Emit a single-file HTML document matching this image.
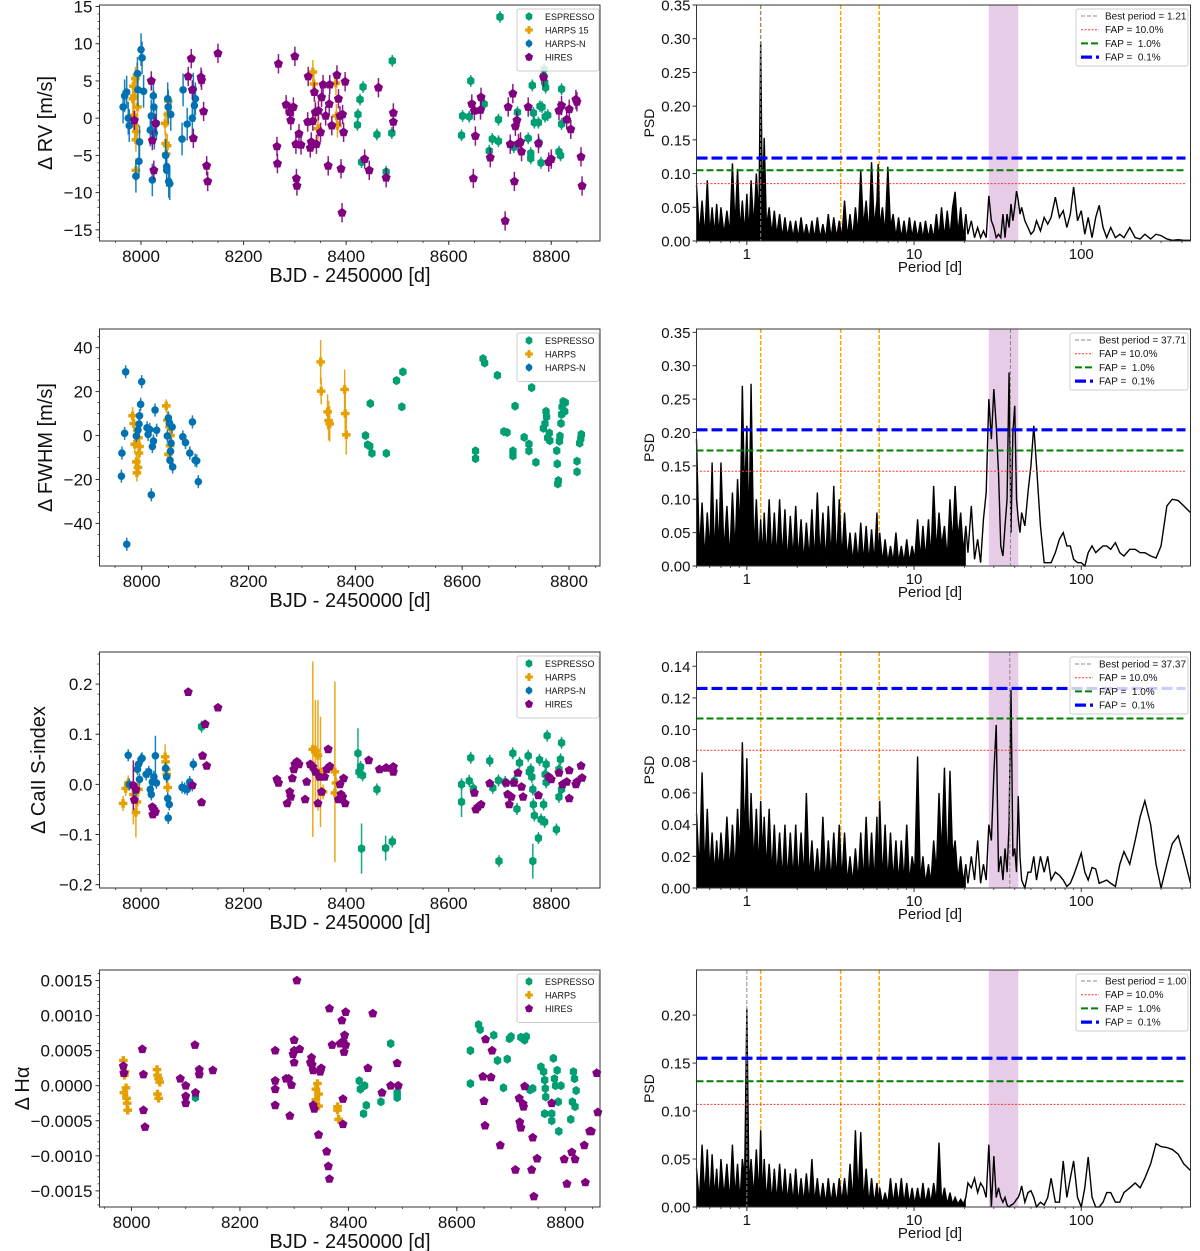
<!DOCTYPE html>
<html><head><meta charset="utf-8"><title>RV and activity periodograms</title>
<style>
html,body{margin:0;padding:0;background:#fff;}
svg{display:block;font-family:"Liberation Sans",sans-serif;}
text{white-space:pre;}
</style></head>
<body>
<svg id="fig" xmlns="http://www.w3.org/2000/svg" width="1200" height="1251" viewBox="0 0 1200 1251"></svg>
<script>
// ---------- time-series data [BJD-2450000, value, optional error] ----------
const rvEspresso=[[8700,13.6],[8490,7.7],[8433,4.2],[8427,2.5],[8423,0.5],[8422,-0.9],[8430,-5.9],[8460,-2.2],[8478,-7.2],[8489,-2.0],[8627,0.3],[8625,-2.3],[8643,5.0],[8640,0.2],[8669,1.9],[8679,-4.4],[8685,-2.8],[8697,-0.2],[8697,-3.1],[8727,-3.9],[8734,0.8],[8755,-2.7],[8760,-5.4],[8760,-4.7],[8763,4.4],[8765,0.7],[8767,-0.6],[8778,1.6],[8782,1.5],[8775,-0.6],[8788,0.2],[8780,-6.0],[8786,6.6],[8785,5.7],[8787,4.8],[8789,4.1],[8793,0.4],[8815,-4.5],[8818,-5.0],[8820,-0.8],[8820,3.9],[8776,-3.3]];
const rvHarps=[[7985,4.3],[7987,3.0],[7989,5.3],[7984,2.6],[7986,0.4],[7988,-1.0],[7991,-1.8],[7990,-2.9],[7990,-7.0],[7993,1.5],[7992,5.8],[8047,-0.7],[8048,-3.4],[8049,-4.8],[8051,-3.7],[8053,2.3],[8052,0.5],[8335,6.2],[8337,4.6],[8340,0.8],[8345,-1.4],[8380,4.7],[8381,0.3],[8383,-1.0]];
const rvHarpsN=[[7965,1.5],[7968,3.0],[7972,3.5],[7975,0],[7977,-1],[7990,-7.8],[7993,6.0],[7994,3.8],[7996,-5.8],[7997,-3.2],[8000,9.2],[8002,8.1],[8005,3.6],[8018,-1.6],[8020,0.3],[8022,-8.3],[8024,3.0],[8025,1.5],[8026,-2.0],[8030,-0.7],[8048,-5.0],[8050,-6.5],[8050,-7.0],[8052,2.6],[8053,1.5],[8054,-8.5],[8056,-8.8],[8058,0.5],[8080,-2.8],[8082,3.8],[8090,-0.8],[8100,0],[8102,3.9],[8104,1.7],[8106,2.6]];
const rvHires=[[7987,-0.3],[8020,5.0],[8022,-3.0],[8025,-7.0],[8028,-0.7],[8092,5.6],[8098,8.0],[8100,3.8],[8102,-2.7],[8117,5.5],[8118,5.1],[8122,0.9],[8128,-6.4],[8130,-8.5],[8150,8.7],[8265,-3.8],[8266,-6.1],[8268,7.3],[8283,1.8],[8290,0.8],[8292,-0.3],[8297,1.5],[8300,8.3],[8302,-3.5],[8303,-8.1],[8304,-9.1],[8308,-2.1],[8312,-3.6],[8325,-0.5],[8326,5.6],[8330,-4.0],[8332,-3.2],[8335,-0.4],[8338,3.5],[8340,0.8],[8342,-3.5],[8346,1.0],[8350,-1.9],[8352,2.8],[8355,4.5],[8360,0.3],[8365,-6.4],[8367,1.9],[8368,4.5],[8372,-1.0],[8382,5.8],[8385,2.6],[8388,0.3],[8390,-6.8],[8392,-12.7],[8393,0.5],[8395,-1.9],[8398,4.9],[8436,-5.5],[8445,-7.0],[8463,4.1],[8478,-8.0],[8492,0.7],[8492,-0.5],[8645,1.9],[8648,-8.1],[8652,-2.4],[8650,1.0],[8662,1.1],[8663,2.8],[8681,-5.3],[8710,-13.8],[8716,1.5],[8720,-3.5],[8725,3.3],[8728,-8.5],[8730,-1.1],[8733,-0.3],[8736,-3.4],[8740,-3.2],[8742,-4.5],[8755,1.5],[8775,-3.4],[8785,5.5],[8795,-5.9],[8800,-5.5],[8815,1.0],[8820,1.7],[8830,-0.2],[8835,1.2],[8838,-1.5],[8848,2.5],[8850,2.2],[8858,-5.2],[8860,-9.1]];

const fwEspresso=[[8419,0],[8423,-4.2],[8427,-4.8],[8431,-8.1],[8428,14.6],[8458,-8.1],[8477,25],[8487,13.1],[8489,29],[8639,35],[8642,33],[8625,-7],[8625,-10.5],[8666,27.4],[8678,1.8],[8684,1.4],[8699,13.4],[8695,-7],[8695,-9.3],[8716,-0.8],[8725,-3.9],[8725,-7],[8730,21.8],[8738,-12.2],[8752,3.3],[8755,5.4],[8757,11],[8758,8.5],[8760,-1.1],[8763,1.1],[8764,-2.3],[8777,-6.9],[8778,-12.9],[8780,-20.5],[8779,-22],[8782,-2.6],[8783,-0.2],[8785,5.5],[8786,9.6],[8787,13],[8789,15.5],[8793,15],[8792,11],[8815,-11.7],[8815,-16.5],[8820,-3.5],[8822,-1.5],[8823,0.5]];
const fwHarps=[[8335,33.5,10],[8336,20.2,6],[8348,10.8,8],[8350,6.8,9],[8352,5.3,8],[8380,21,9],[8381,10,9],[8383,0.3,9],[7983,9,4],[7985,5.5,4],[7987,-4,4],[7990,-12,4],[7991,-17,4],[7993,-14.5,4],[7995,-8,4],[7996,-5,4],[7994,-1,4],[8046,13.5,3],[8048,7,4],[8050,-8.5,4],[8052,4,4],[8053,-4.6,4],[8054,0,4]];
const fwHarpsN=[[7963,-8],[7962,-18.5],[7968,1],[7970,29],[7972,-49.5],[7990,-0.2],[7993,2.5],[7995,5.2],[7996,9],[7998,14.2],[8000,24.5],[8010,3.5],[8012,0.5],[8015,2.8],[8018,-27],[8020,-5],[8022,-2.5],[8025,11.6],[8028,2.4],[8048,-0.2],[8050,8],[8052,5.5],[8053,-11.3],[8054,-7.2],[8055,-3.5],[8057,3.9],[8058,-14.3],[8077,-0.6],[8082,-3.2],[8090,-8],[8095,6.2],[8100,-11.2],[8103,-11.5],[8106,-21]];

const sEspresso=[[8118,0.115],[8423,0.062,0.05],[8425,0.025],[8428,0.035],[8432,0.018],[8430,-0.128,0.05],[8460,-0.01],[8477,-0.127,0.025],[8490,-0.114],[8625,0],[8625,-0.035,0.03],[8640,0.007],[8643,0.053],[8648,-0.008],[8680,0.047],[8686,-0.007],[8697,0.008],[8698,-0.153],[8710,0.005],[8725,0.062],[8728,0.007],[8733,-0.049],[8738,0.043],[8755,0.057],[8757,0.025],[8760,0.03],[8762,0.015],[8764,-0.01],[8765,-0.04],[8767,-0.062],[8764,-0.153,0.035],[8775,-0.107],[8777,0.049],[8780,-0.07],[8785,-0.04],[8787,-0.075],[8788,0.02],[8790,0.04],[8792,0.097],[8810,-0.09],[8815,-0.025],[8818,0.05],[8820,0.083],[8820,-0.01],[8815,0.03],[8790,0.004]];
const sHarps=[[7965,-0.038],[7970,-0.008],[7975,0.003],[7985,-0.02,0.06],[7990,-0.056,0.05],[7992,-0.035],[7995,-0.01],[8047,0.055,0.025],[8048,0.045],[8049,0.03],[8050,0.02],[8052,-0.006],[8335,0.07,0.175],[8340,0.068,0.1],[8345,0.058,0.11],[8350,0.025,0.11],[8355,-0.015],[8378,0.025,0.18],[8380,0.003],[8378,-0.017]];
const sHarpsN=[[7975,0.058],[7977,0.0],[7990,-0.012],[7993,0.03],[7995,0.04],[7997,0.01],[8000,0.05],[8002,0.052],[8010,0.02],[8015,0.025],[8018,-0.01],[8020,-0.02],[8022,0.005],[8025,0.015],[8028,0.057,0.04],[8030,0.003],[8048,0.032],[8050,0.015],[8052,-0.028],[8053,-0.067],[8055,-0.04],[8080,-0.006],[8085,-0.008],[8090,-0.01],[8095,0.005],[8100,-0.002],[8102,0.04]];
const sHires=[[7985,-0.002,0.05],[7987,-0.031],[7990,-0.01],[8022,-0.045],[8023,-0.06],[8025,-0.05],[8028,-0.055],[8092,0.184],[8100,-0.002],[8118,-0.036],[8120,0.057],[8125,0.12],[8128,0.037],[8150,0.153],[8265,0.01],[8268,0.003],[8285,-0.038],[8290,-0.015],[8292,-0.025],[8295,0.012],[8298,0.03],[8300,0.04],[8304,0.045],[8308,0.04],[8320,-0.03],[8323,0.005],[8330,0.04],[8335,0.035],[8340,0.025],[8345,-0.038],[8348,0.015],[8352,-0.015],[8358,0.015],[8362,0.03],[8365,0.07],[8368,0.036],[8385,-0.03],[8388,0.0],[8390,-0.02],[8393,-0.025],[8395,0.012],[8398,-0.038],[8444,0.048],[8465,0.03],[8478,0.033],[8492,0.035],[8492,0.025],[8650,-0.017],[8653,-0.05],[8657,-0.045],[8663,-0.04],[8680,0.002],[8712,0.003],[8715,-0.02],[8718,-0.04],[8722,-0.025],[8727,0.003],[8735,0.023],[8742,-0.005],[8745,-0.025],[8775,-0.022],[8795,0.015],[8800,0.01],[8815,0.023],[8822,0.0],[8830,0.005],[8835,0.028],[8835,-0.028],[8848,0.0],[8850,0.005],[8858,0.037],[8860,0.013]];

const haEspresso=[[8118,-0.00017],[8420,0.00007],[8422,-0.00005],[8428,-0.0004],[8430,0.0],[8433,-0.00028],[8460,-0.00023],[8478,0.0006],[8490,-0.00017],[8490,-0.0001],[8625,0.0005],[8625,0.00003],[8640,0.00087],[8643,0.0008],[8668,0.00072],[8675,0.00036],[8686,-0.00003],[8693,0.00038],[8697,0.00067],[8700,0.0007],[8718,0.00069],[8725,0.00065],[8728,0.0007],[8735,-0.00006],[8740,-0.00004],[8755,0.00027],[8760,0.0002],[8762,0.00008],[8763,-0.00004],[8764,-0.00016],[8762,-0.0004],[8775,-0.0005],[8775,-0.0004],[8778,0.00039],[8780,0.0001],[8782,0.0],[8785,0.00022],[8787,-0.00023],[8788,-0.00065],[8792,0.0],[8810,-0.00048],[8813,-0.00023],[8815,0.0002],[8817,0.0001],[8818,-0.0003],[8820,-0.00007]];
const haHarps=[[7985,0.00036],[7987,0.00015],[7988,0.0002],[7986,-0.0001],[7990,-0.00003],[7991,-0.00018],[7992,-0.00025],[7993,-0.00035],[8047,0.00023],[8048,0.00015],[8050,0.0001],[8052,0.00005],[8048,-0.00012],[8050,-0.00018],[8340,-0.00005],[8343,0.00003],[8345,-0.00012],[8340,-0.0002],[8345,-0.00029],[8380,-0.00035],[8382,-0.00048],[8380,-0.0003]];
const haHires=[[7985,0.00028],[7986,0.00018],[8020,0.00052],[8022,0.00016],[8022,-0.00035],[8025,-0.00059],[8090,0.0001],[8100,0.0],[8100,-0.00015],[8100,-0.00025],[8117,0.00058],[8118,-0.0001],[8125,0.00023],[8125,0.00016],[8150,0.00022],[8265,0.0005],[8265,0.00007],[8265,-0.00005],[8265,-0.00028],[8285,0.0001],[8290,0.0001],[8292,-0.00043],[8295,0.00001],[8298,0.00045],[8300,0.00065],[8300,0.0005],[8300,0.00033],[8310,0.00052],[8305,0.0015],[8330,0.00033],[8332,0.0004],[8333,0.0003],[8335,0.00022],[8335,-0.00028],[8337,-0.00033],[8345,-0.0007],[8348,0.0002],[8350,0.00025],[8360,-0.00094],[8363,-0.00115],[8365,-0.00133],[8365,0.0011],[8370,0.00058],[8385,0.0006],[8388,0.00093],[8390,0.00063],[8390,-0.00019],[8393,0.00072],[8392,0.00048],[8390,-0.00055],[8395,0.00105],[8395,0.00058],[8436,0.00025],[8445,0.00103],[8462,-0.0001],[8478,0.0],[8490,0.00032],[8492,0.0],[8648,0.00013],[8650,-0.00022],[8652,-0.00057],[8653,0.00066],[8663,0.00012],[8665,0.0005],[8680,-0.00085],[8708,-0.0012],[8715,-0.00018],[8716,-0.00052],[8718,-0.0006],[8722,-0.00026],[8723,-0.0003],[8725,-0.00001],[8738,-0.0012],[8740,-0.00074],[8742,-0.00158],[8748,-0.00104],[8775,-0.00025],[8798,-0.00105],[8803,-0.0014],[8812,-0.00095],[8818,-0.00105],[8835,-0.00085],[8837,-0.00138],[8845,-0.00065],[8848,-0.00065],[8858,0.00018],[8860,-0.00038]];

// ---------- periodogram data ----------
const periodGrid=[0.50,0.52,0.54,0.56,0.58,0.60,0.62,0.64,0.66,0.68,0.70,0.73,0.76,0.79,0.82,0.85,0.88,0.91,0.94,0.97,1.00,1.03,1.06,1.10,1.14,1.18,1.21,1.24,1.27,1.31,1.36,1.41,1.46,1.51,1.57,1.63,1.69,1.75,1.82,1.89,1.96,2.03,2.11,2.19,2.27,2.36,2.45,2.54,2.64,2.74,2.85,2.96,3.07,3.19,3.31,3.44,3.57,3.70,3.84,3.99,4.14,4.30,4.46,4.63,4.80,4.98,5.17,5.37,5.57,5.78,6.00,6.10,6.23,6.47,6.71,6.97,7.23,7.50,7.79,8.08,8.39,8.71,9.04,9.38,9.73,10.1,10.5,10.9,11.3,11.7,12.2,12.6,13.1,13.6,14.1,14.6,15.2,15.8,16.4,17.0,17.6,18.3,19.0,19.7,20.4,
21,22,23,24,25,26,27,28,29,30,31,32,33,34,35,36,37,38,39,40,41,42,43,44,46,48,50,52,54,57,60,63,66,70,74,78,82,86,90,95,100,105,110,116,122,128,135,142,150,160,170,180,195,210,225,240,260,280,300,325,350,380,410,450];
const noiseLimit=20.4;
const psdRV=[0.083,0.01,0.06,0.005,0.09,0.01,0.05,0.008,0.055,0.01,0.05,0.01,0.045,0.01,0.115,0.02,0.107,0.015,0.06,0.01,0.07,0.01,0.09,0.02,0.1,0.03,0.295,0.04,0.153,0.02,0.05,0.01,0.045,0.008,0.04,0.005,0.035,0.006,0.03,0.005,0.03,0.004,0.035,0.005,0.025,0.004,0.03,0.003,0.035,0.004,0.025,0.003,0.04,0.004,0.035,0.005,0.03,0.004,0.06,0.005,0.04,0.004,0.05,0.01,0.105,0.02,0.06,0.01,0.117,0.02,0.06,0.114,0.02,0.05,0.01,0.11,0.02,0.04,0.005,0.035,0.004,0.03,0.003,0.035,0.005,0.03,0.004,0.028,0.003,0.03,0.004,0.025,0.003,0.04,0.005,0.05,0.005,0.045,0.006,0.05,0.073,0.01,0.05,0.005,0.04,
0.01,0.03,0.005,0.02,0.005,0.015,0.005,0.067,0.03,0.02,0.005,0.01,0.005,0.04,0.005,0.04,0.02,0.055,0.03,0.05,0.074,0.06,0.04,0.05,0.03,0.02,0.01,0.015,0.03,0.015,0.035,0.025,0.035,0.065,0.035,0.045,0.02,0.04,0.08,0.03,0.045,0.01,0.035,0.005,0.035,0.053,0.02,0.005,0.02,0.005,0.01,0.005,0.02,0.005,0.003,0.01,0.003,0.01,0.008,0.003,0.001,0.002,0.001,0.001];
const psdFWHM=[0.19,0.02,0.095,0.01,0.08,0.02,0.155,0.01,0.1,0.02,0.155,0.02,0.09,0.01,0.11,0.02,0.13,0.05,0.27,0.1,0.21,0.05,0.273,0.02,0.1,0.01,0.07,0.01,0.08,0.01,0.1,0.01,0.08,0.01,0.1,0.01,0.085,0.005,0.075,0.01,0.09,0.01,0.07,0.005,0.065,0.01,0.085,0.005,0.11,0.01,0.08,0.005,0.09,0.01,0.12,0.005,0.1,0.01,0.08,0.01,0.05,0.005,0.05,0.005,0.065,0.005,0.06,0.005,0.055,0.005,0.08,0.01,0.05,0.005,0.04,0.005,0.03,0.005,0.05,0.005,0.03,0.005,0.04,0.005,0.03,0.01,0.07,0.01,0.06,0.01,0.07,0.01,0.12,0.02,0.08,0.03,0.06,0.01,0.1,0.03,0.12,0.04,0.08,0.02,0.06,
0.02,0.09,0.01,0.04,0.005,0.07,0.11,0.25,0.19,0.265,0.21,0.14,0.03,0.015,0.06,0.1,0.29,0.05,0.2,0.24,0.1,0.07,0.05,0.08,0.06,0.11,0.15,0.21,0.15,0.06,0.005,0.005,0.005,0.02,0.04,0.05,0.03,0.03,0.01,0.005,0.005,0.0,0.02,0.03,0.02,0.025,0.03,0.03,0.025,0.035,0.02,0.015,0.025,0.025,0.02,0.02,0.015,0.012,0.03,0.09,0.1,0.098,0.09,0.08];
const psdS=[0.047,0.01,0.073,0.01,0.05,0.01,0.035,0.008,0.03,0.01,0.035,0.01,0.045,0.01,0.04,0.01,0.05,0.02,0.092,0.03,0.082,0.02,0.06,0.015,0.05,0.01,0.055,0.02,0.045,0.01,0.05,0.008,0.04,0.006,0.035,0.005,0.04,0.005,0.035,0.005,0.04,0.004,0.035,0.005,0.06,0.005,0.03,0.004,0.025,0.003,0.045,0.003,0.03,0.004,0.035,0.005,0.04,0.004,0.035,0.003,0.02,0.003,0.025,0.004,0.035,0.003,0.045,0.003,0.035,0.003,0.045,0.003,0.055,0.004,0.04,0.003,0.035,0.004,0.03,0.003,0.03,0.003,0.04,0.003,0.02,0.01,0.083,0.005,0.02,0.003,0.015,0.003,0.03,0.01,0.06,0.02,0.076,0.01,0.074,0.02,0.03,0.005,0.02,0.003,0.015,
0.003,0.02,0.005,0.03,0.003,0.015,0.005,0.04,0.03,0.072,0.103,0.01,0.02,0.005,0.025,0.01,0.04,0.125,0.02,0.025,0.01,0.058,0.02,0.005,0.0,0.01,0.01,0.02,0.005,0.02,0.01,0.02,0.005,0.01,0.008,0.005,0.001,0.003,0.008,0.015,0.022,0.01,0.005,0.013,0.012,0.003,0.004,0.005,0.003,0.001,0.015,0.023,0.015,0.03,0.045,0.055,0.04,0.015,0.0,0.015,0.028,0.033,0.02,0.003];
const psdHa=[0.04,0.005,0.065,0.01,0.06,0.005,0.055,0.01,0.04,0.005,0.05,0.01,0.045,0.005,0.065,0.01,0.045,0.005,0.05,0.03,0.207,0.02,0.05,0.01,0.06,0.01,0.08,0.01,0.05,0.005,0.045,0.005,0.04,0.005,0.045,0.005,0.04,0.005,0.035,0.004,0.04,0.004,0.03,0.004,0.035,0.004,0.05,0.004,0.03,0.004,0.025,0.003,0.03,0.004,0.025,0.003,0.03,0.005,0.03,0.003,0.045,0.005,0.08,0.01,0.078,0.005,0.04,0.003,0.03,0.003,0.025,0.003,0.02,0.003,0.015,0.003,0.03,0.003,0.025,0.003,0.03,0.003,0.025,0.003,0.02,0.003,0.02,0.003,0.025,0.003,0.02,0.003,0.025,0.005,0.067,0.005,0.02,0.003,0.015,0.003,0.01,0.003,0.008,0.003,0.01,
0.025,0.02,0.03,0.015,0.025,0.02,0.01,0.065,0.0,0.053,0.01,0.02,0.01,0.005,0.01,0.002,0.0,0.002,0.003,0.005,0.008,0.01,0.015,0.022,0.005,0.015,0.017,0.01,0.0,0.005,0.002,0.01,0.03,0.005,0.005,0.048,0.01,0.03,0.048,0.01,0.0,0.02,0.052,0.01,0.0,0.0,0.005,0.015,0.015,0.005,0.005,0.015,0.02,0.025,0.02,0.03,0.045,0.066,0.063,0.062,0.06,0.055,0.045,0.038];
const bestPeriods=[1.21,37.71,37.37,1.00];
const bestLabels=["1.21","37.71","37.37","1.00"];
const fap10=[0.085,0.142,0.087,0.107];
const fap1=[0.105,0.173,0.107,0.131];
const fap01=[0.123,0.204,0.126,0.155];
const markedPeriods=[1.21,3.64,6.19];
const bandPeriods=[28,42];

// ---------- layout ----------
const NS="http://www.w3.org/2000/svg";
const svg=document.getElementById('fig');
const LX=[99.5,600], RX=[696.5,1190.5];
const rows=[[5,241],[329,566],[652,888],[970,1207]];
const COL={ESPRESSO:'#009E73',HARPS:'#E69F00',HARPSN:'#0072B2',HIRES:'#800080'};

function mk(tag,attrs,parent){const e=document.createElementNS(NS,tag);for(const k in attrs)e.setAttribute(k,attrs[k]);(parent||svg).appendChild(e);return e;}
function txt(s,x,y,size,anchor,parent,extra){const t=mk('text',Object.assign({x:x,y:y,'font-size':size,'text-anchor':anchor||'middle',fill:'#111'},extra||{}),parent);t.textContent=s;return t;}
function lin(d0,d1,p0,p1){return v=>p0+(v-d0)/(d1-d0)*(p1-p0);}
function logs(d0,d1,p0,p1){const a=Math.log10(d0),b=Math.log10(d1);return v=>p0+(Math.log10(v)-a)/(b-a)*(p1-p0);}

function marker(kind,x,y,g,sc){
  const c=COL[kind];let e;sc=sc||1;
  if(kind==='HARPSN'){e=mk('circle',{cx:x,cy:y,r:3.8*sc,fill:c},g);}
  else if(kind==='ESPRESSO'){const r=4.6*sc,p=[];for(let i=0;i<6;i++){const a=Math.PI/2+i*Math.PI/3;p.push((x+r*0.92*Math.cos(a)).toFixed(1)+','+(y-r*Math.sin(a)).toFixed(1));}e=mk('polygon',{points:p.join(' '),fill:c},g);}
  else if(kind==='HIRES'){const r=4.8*sc,p=[];for(let i=0;i<5;i++){const a=Math.PI/2+i*2*Math.PI/5;p.push((x+r*Math.cos(a)).toFixed(1)+','+(y-r*Math.sin(a)).toFixed(1));}e=mk('polygon',{points:p.join(' '),fill:c},g);}
  else {const s=4.3*sc,w=1.7*sc;e=mk('path',{d:`M${x-w},${y-s}H${x+w}V${y-w}H${x+s}V${y+w}H${x+w}V${y+s}H${x-w}V${y+w}H${x-s}V${y-w}H${x-w}Z`,fill:c},g);}
  return e;
}

function frame(xr,yr,g){
  const r=mk('rect',{x:xr[0],y:yr[0],width:xr[1]-xr[0],height:yr[1]-yr[0],fill:'none',stroke:'#333','stroke-width':1},g);
  
  
}

// ---------- scatter panels ----------
const scatterPanels=[
 {name:'rv',row:0,xlim:[7919,8895],ylim:[-16.5,15.2],yt:[-15,-10,-5,0,5,10,15],ytl:["−15","−10","−5","0","5","10","15"],minor:1,label:"Δ RV [m/s]",lx:45,
  series:[['ESPRESSO',rvEspresso,0.8],['HARPS',rvHarps,1.6],['HARPSN',rvHarpsN,2.2],['HIRES',rvHires,1.3]],leg:[['ESPRESSO','ESPRESSO'],['HARPS','HARPS 15'],['HARPSN','HARPS-N'],['HIRES','HIRES']]},
 {name:'fwhm',row:1,xlim:[7921,8858],ylim:[-59.4,48.5],yt:[-40,-20,0,20,40],ytl:["−40","−20","0","20","40"],minor:5,label:"Δ FWHM [m/s]",lx:45,
  series:[['ESPRESSO',fwEspresso,1.5],['HARPS',fwHarps,4],['HARPSN',fwHarpsN,3]],leg:[['ESPRESSO','ESPRESSO'],['HARPS','HARPS'],['HARPSN','HARPS-N']]},
 {name:'sindex',row:2,xlim:[7919,8895],ylim:[-0.2066,0.264],yt:[-0.2,-0.1,0,0.1,0.2],ytl:["−0.2","−0.1","0.0","0.1","0.2"],minor:0.02,label:"Δ CaII S-index",lx:38,
  series:[['ESPRESSO',sEspresso,0.012],['HARPS',sHarps,0.015],['HARPSN',sHarpsN,0.012],['HIRES',sHires,0.003]],leg:[['ESPRESSO','ESPRESSO'],['HARPS','HARPS'],['HARPSN','HARPS-N'],['HIRES','HIRES']]},
 {name:'halpha',row:3,xlim:[7941,8864],ylim:[-0.00173,0.00165],yt:[-0.0015,-0.001,-0.0005,0,0.0005,0.001,0.0015],ytl:["−0.0015","−0.0010","−0.0005","0.0000","0.0005","0.0010","0.0015"],minor:0.0001,label:"Δ Hα",lx:22,
  series:[['ESPRESSO',haEspresso,0.00002],['HARPS',haHarps,0.00003],['HIRES',haHires,0.00001]],leg:[['ESPRESSO','ESPRESSO'],['HARPS','HARPS'],['HIRES','HIRES']]}
];
const xTicks=[8000,8200,8400,8600,8800];

scatterPanels.forEach(P=>{
  const yr=rows[P.row];
  const g=mk('g',{});
  
  
  const X=lin(P.xlim[0],P.xlim[1],LX[0],LX[1]), Y=lin(P.ylim[0],P.ylim[1],yr[1],yr[0]);
  P.series.forEach(s=>{
    const sg=mk('g',{},g);
    
    
    s[1].forEach(d=>{
      const x=X(d[0]),y=Y(d[1]),e=(d[2]!==undefined?d[2]:s[2]);
      const eb=mk('line',{x1:x,x2:x,y1:Y(d[1]-e),y2:Y(d[1]+e),stroke:COL[s[0]],'stroke-width':1.5,'stroke-opacity':0.9},sg);
      
      
      const m=marker(s[0],x,y,sg);
      
      
    });
  });
  frame(LX,yr,g);
  for(let v=Math.ceil(P.ylim[0]/P.minor)*P.minor;v<=P.ylim[1];v+=P.minor){mk('line',{x1:LX[0]-2,x2:LX[0],y1:Y(v),y2:Y(v),stroke:'#333','stroke-width':0.8},g);}
  P.yt.forEach((v,i)=>{
    mk('line',{x1:LX[0]-4,x2:LX[0],y1:Y(v),y2:Y(v),stroke:'#333','stroke-width':1},g);
    const t=txt(P.ytl[i],LX[0]-7,Y(v)+6,17,'end',g);
    
    
  });
  for(let v=Math.ceil(P.xlim[0]/50)*50;v<=P.xlim[1];v+=50){mk('line',{x1:X(v),x2:X(v),y1:yr[1],y2:yr[1]+2,stroke:'#333','stroke-width':0.8},g);}
  xTicks.forEach(v=>{
    mk('line',{x1:X(v),x2:X(v),y1:yr[1],y2:yr[1]+4,stroke:'#333','stroke-width':1},g);
    const t=txt(String(v),X(v),yr[1]+21,17,'middle',g);
    
    
  });
  const xl=txt("BJD - 2450000 [d]",350,yr[1]+41,20,'middle',g);
  
  
  const cy=(yr[0]+yr[1])/2;
  const yl=txt(P.label,P.lx,cy,20,'middle',g,{transform:`rotate(-90 ${P.lx} ${cy})`,dy:7});
  
  
  const lg=mk('g',{},g);
  
  
  const n=P.leg.length;
  mk('rect',{x:517,y:yr[0]+4,width:82,height:8+n*13.5,rx:2,fill:'#fff','fill-opacity':0.85,stroke:'#ccc','stroke-width':1},lg);
  P.leg.forEach((L,i)=>{
    const y=yr[0]+11.5+i*13.5;
    const le=mk('g',{},lg);
    
    
    mk('line',{x1:529,x2:529,y1:y-4,y2:y+4,stroke:COL[L[0]],'stroke-width':1.5},le);
    marker(L[0],529,y,le,0.9);
    txt(L[1],545,y+3.3,9,'start',le);
  });
});

// ---------- periodogram panels ----------
const psdPanels=[
 {name:'rv',row:0,ymax:0.35,yt:[0,0.05,0.1,0.15,0.2,0.25,0.3,0.35],ytl:["0.00","0.05","0.10","0.15","0.20","0.25","0.30","0.35"],psd:psdRV,leg:[1076,9]},
 {name:'fwhm',row:1,ymax:0.355,yt:[0,0.05,0.1,0.15,0.2,0.25,0.3,0.35],ytl:["0.00","0.05","0.10","0.15","0.20","0.25","0.30","0.35"],psd:psdFWHM,leg:[1070,333]},
 {name:'sindex',row:2,ymax:0.149,yt:[0,0.02,0.04,0.06,0.08,0.1,0.12,0.14],ytl:["0.00","0.02","0.04","0.06","0.08","0.10","0.12","0.14"],psd:psdS,leg:[1070,657]},
 {name:'halpha',row:3,ymax:0.247,yt:[0,0.05,0.1,0.15,0.2],ytl:["0.00","0.05","0.10","0.15","0.20"],psd:psdHa,leg:[1076,974]}
];
psdPanels.forEach((P,k)=>{
  const yr=rows[P.row];
  const g=mk('g',{});
  
  
  const X=logs(0.5,450,RX[0],RX[1]), Y=lin(0,P.ymax,yr[1],yr[0]);
  const band=mk('rect',{x:X(bandPeriods[0]),y:yr[0],width:X(bandPeriods[1])-X(bandPeriods[0]),height:yr[1]-yr[0],fill:'#800080','fill-opacity':0.2},g);
  
  
  markedPeriods.forEach(p=>{
    const l=mk('line',{x1:X(p),x2:X(p),y1:yr[0],y2:yr[1],stroke:'#FFA500','stroke-width':1.5,'stroke-dasharray':'4,2'},g);
    
    
  });
  const n=Math.min(periodGrid.length,P.psd.length);
  // filled dense-noise region
  let fd='M'+X(periodGrid[0]).toFixed(2)+','+Y(0).toFixed(2);
  let last=0;
  for(let i=0;i<n&&periodGrid[i]<=noiseLimit;i++){fd+='L'+X(periodGrid[i]).toFixed(2)+','+Y(P.psd[i]).toFixed(2);last=i;}
  fd+='L'+X(periodGrid[last]).toFixed(2)+','+Y(0).toFixed(2)+'Z';
  const fp=mk('path',{d:fd,fill:'#000',stroke:'none'},g);
  
  
  let d='';
  for(let i=0;i<n;i++){d+=(i?'L':'M')+X(periodGrid[i]).toFixed(2)+','+Y(P.psd[i]).toFixed(2);}
  const pl=mk('path',{d:d,fill:'none',stroke:'#000','stroke-width':1.4,'stroke-linejoin':'miter'},g);
  
  
  const bp=mk('line',{x1:X(bestPeriods[k]),x2:X(bestPeriods[k]),y1:yr[0],y2:yr[1],stroke:'#888','stroke-width':1,'stroke-dasharray':'4,2'},g);
  
  
  const xe=X(420);
  const f1=mk('line',{x1:RX[0],x2:xe,y1:Y(fap10[k]),y2:Y(fap10[k]),stroke:'#ff3333','stroke-width':1,'stroke-dasharray':'2,1.5'},g);
  
  
  const f2=mk('line',{x1:RX[0],x2:xe,y1:Y(fap1[k]),y2:Y(fap1[k]),stroke:'#008000','stroke-width':2,'stroke-dasharray':'7,3'},g);
  
  
  const f3=mk('line',{x1:RX[0],x2:xe,y1:Y(fap01[k]),y2:Y(fap01[k]),stroke:'#0000ff','stroke-width':3.2,'stroke-dasharray':'11,4'},g);
  
  
  frame(RX,yr,g);
  P.yt.forEach((v,i)=>{
    mk('line',{x1:RX[0]-4,x2:RX[0],y1:Y(v),y2:Y(v),stroke:'#333','stroke-width':1},g);
    const t=txt(P.ytl[i],RX[0]-6,Y(v)+5.5,15,'end',g);
    
    
  });
  [1,10,100].forEach(v=>{
    mk('line',{x1:X(v),x2:X(v),y1:yr[1],y2:yr[1]+4,stroke:'#333','stroke-width':1},g);
    const t=txt(String(v),X(v),yr[1]+18,15,'middle',g);
    
    
  });
  [0.5,0.6,0.7,0.8,0.9,2,3,4,5,6,7,8,9,20,30,40,50,60,70,80,90,200,300,400].forEach(v=>{mk('line',{x1:X(v),x2:X(v),y1:yr[1],y2:yr[1]+2,stroke:'#333','stroke-width':0.8},g);});
  const xl=txt("Period [d]",930,yr[1]+31,15,'middle',g);
  
  
  const cy=(yr[0]+yr[1])/2;
  const yl=txt("PSD",649,cy,14,'middle',g,{transform:`rotate(-90 649 ${cy})`,dy:5});
  
  
  const lx=P.leg[0],ly=P.leg[1],w=1188-lx;
  const lg=mk('g',{},g);
  
  
  mk('rect',{x:lx,y:ly,width:w,height:57,rx:2,fill:'#fff','fill-opacity':0.8,stroke:'#ccc','stroke-width':1},lg);
  const items=[["Best period = "+bestLabels[k],'#888',1,'4,2'],["FAP = 10.0%",'#ff3333',1,'2,1.5'],["FAP =  1.0%",'#008000',2,'7,3'],["FAP =  0.1%",'#0000ff',3.2,'11,4']];
  items.forEach((it,i)=>{
    const y=ly+7+i*13.7;
    const le=mk('g',{},lg);
    
    
    mk('line',{x1:lx+5,x2:lx+23,y1:y,y2:y,stroke:it[1],'stroke-width':it[2],'stroke-dasharray':it[3]},le);
    txt(it[0],lx+29,y+3.5,10,'start',le);
  });
});
</script>
</body></html>
